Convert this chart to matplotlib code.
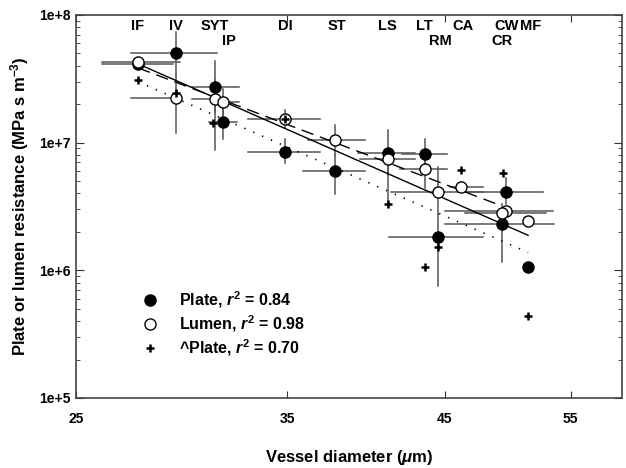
import numpy as np
import matplotlib
matplotlib.use("Agg")
from matplotlib import pyplot as plt
from matplotlib.lines import Line2D

plt.rcParams['font.family'] = ['Liberation Sans', 'DejaVu Sans']
plt.rcParams['font.weight'] = 'bold'
plt.rcParams['mathtext.fontset'] = 'custom'
plt.rcParams['mathtext.it'] = 'Liberation Sans:bold:italic'
plt.rcParams['mathtext.rm'] = 'Liberation Sans:bold'
plt.rcParams['mathtext.bf'] = 'Liberation Sans:bold'

nan = np.nan

# sites (top labels) and vessel diameter (um)
sites = ["IF", "IV", "SYT", "IP", "DI", "ST", "LS", "LT", "RM", "CA", "CW", "CR", "MF"]
label_row = [0, 0, 0, 1, 0, 0, 0, 0, 1, 0, 0, 1, 0]
label_x = [27.6, 29.3, 31.2, 31.9, 34.9, 37.9, 41.1, 43.6, 44.7, 46.3, 49.7, 49.3, 51.6]
diam = [27.6, 29.3, 31.2, 31.6, 34.9, 37.8, 41.1, 43.6, 44.5, 46.2, 49.6, 49.3, 51.4]

# plate resistance (filled)
plate = [4.14e7, 5.05e7, 2.74e7, 1.46e7, 8.5e6, 6.04e6, 8.3e6, 8.2e6, 1.81e6, nan, 4.07e6, 2.29e6, 1.06e6]
plate_ylo = [nan, 3.4e7, 1.75e7, 1.06e7, 6.9e6, 3.93e6, 5.62e6, 6.73e6, 7.5e5, nan, 3.28e6, 1.17e6, nan]
plate_yhi = [nan, 7.36e7, 4.37e7, 1.98e7, 1.06e7, 8.0e6, 1.26e7, 1.06e7, 2.74e6, nan, 5.33e6, 3.28e6, nan]
plate_xlo = [26.06, 27.29, 30.1, 30.9, 32.9, 35.9, 39.2, 42.05, 41.2, nan, 46.5, 45.0, nan]
plate_xhi = [29.2, 31.3, 32.4, 32.3, 36.9, 39.6, 42.9, 45.2, 47.8, nan, 52.6, 53.6, nan]

# lumen resistance (open)
lumen = [4.29e7, 2.25e7, 2.2e7, 2.09e7, 1.54e7, 1.055e7, 7.5e6, 6.26e6, 4.14e6, 4.53e6, 2.89e6, 2.83e6, 2.42e6]
lumen_ylo = [nan, 1.2e7, 8.8e6, 1.66e7, 1.31e7, 8.0e6, 3.16e6, 4.45e6, 2.74e6, 4.14e6, nan, nan, nan]
lumen_yhi = [nan, 3.4e7, 3.1e7, 2.64e7, 1.81e7, 1.38e7, 8.8e6, 7.37e6, 6.5e6, 4.96e6, nan, nan, nan]
lumen_xlo = [26.06, 27.29, 30.1, 31.2, 32.9, 36.2, 39.3, 41.9, 41.3, 45.4, 45.0, 46.5, nan]
lumen_xhi = [29.5, 29.3, 31.6, 32.4, 36.9, 39.6, 42.9, 45.2, 47.8, 47.8, 53.5, 52.9, nan]

# ^plate
up_diam = [27.6, 29.3, 31.1, 34.9, 41.1, 43.6, 44.5, 46.2, 49.4, 51.4]
up_plate = [3.1e7, 2.46e7, 1.43e7, 1.54e7, 3.28e6, 1.07e6, 1.51e6, 6.15e6, 5.83e6, 4.37e5]

# regression lines
fit_plate_x = [27.6, 51.4]
fit_plate_y = [4.14e7, 1.88e6]
fit_lumen_x = [27.6, 49.2]
fit_lumen_y = [3.85e7, 3.22e6]
fit_up_x = [27.6, 51.4]
fit_up_y = [3.0e7, 1.38e6]

fig = plt.figure(figsize=(6.26, 4.68), dpi=100)
ax = fig.add_axes([0.1214, 0.1496, 0.8722, 0.8184])
ax.set_xscale("log")
ax.set_yscale("log")
ax.set_xlim(25, 59.7)
ax.set_ylim(1e5, 1e8)

ebc = "#555555"


def draw_bars(x, y, xlo, xhi, ylo, yhi):
    for xi, yi, a, b, c, d in zip(x, y, xlo, xhi, ylo, yhi):
        if np.isnan(yi):
            continue
        if not np.isnan(a):
            ax.plot([a, b], [yi, yi], color=ebc, lw=1.1, zorder=1)
        if not np.isnan(c):
            ax.plot([xi, xi], [c, d], color=ebc, lw=1.1, zorder=1)


draw_bars(diam, plate, plate_xlo, plate_xhi, plate_ylo, plate_yhi)
draw_bars(diam, lumen, lumen_xlo, lumen_xhi, lumen_ylo, lumen_yhi)

ax.plot(fit_plate_x, fit_plate_y, color="black", lw=1.0, zorder=2)
ax.plot(fit_lumen_x, fit_lumen_y, color="black", lw=1.0, dashes=(9, 5), zorder=2)
ax.plot(fit_up_x, fit_up_y, color="black", lw=1.2, dashes=(0.8, 5), zorder=2)

ax.plot(diam, plate, "o", ms=8, mfc="black", mec="black", zorder=3)
ax.plot(diam, lumen, "o", ms=8, mfc="white", mec="black", mew=1.0, zorder=4)
ax.plot(up_diam, up_plate, "+", ms=6, mew=1.8, color="black", zorder=5)

for s, xs, r in zip(sites, label_x, label_row):
    ax.text(xs, 0.971 if r == 0 else 0.932, s, transform=ax.get_xaxis_transform(),
            ha="center", va="center", fontsize=10.5, fontweight="bold")

ax.set_xticks([25, 35, 45, 55])
ax.set_xticklabels(["25", "35", "45", "55"])
ax.xaxis.set_minor_locator(matplotlib.ticker.NullLocator())
ax.set_yticks([1e5, 1e6, 1e7, 1e8])
ax.set_yticklabels(["1e+5", "1e+6", "1e+7", "1e+8"])
ax.tick_params(which="both", direction="in", top=True, right=True, labelsize=10, colors="#333333",
               labelcolor="black")
ax.tick_params(axis="x", which="major", length=5, pad=10)
ax.tick_params(axis="y", which="major", length=6, pad=4)
ax.tick_params(axis="y", which="minor", length=3)
for sp in ax.spines.values():
    sp.set_color("#444444")
    sp.set_linewidth(1.2)

ax.set_xlabel(r"Vessel diameter ($\mu$m)", fontsize=12, fontweight="bold", labelpad=16)
ax.set_ylabel(r"Plate or lumen resistance (MPa s m$^{-3}$)", fontsize=12, fontweight="bold", labelpad=6)

handles = [
    Line2D([], [], ls="none", marker="o", ms=8, mfc="black", mec="black"),
    Line2D([], [], ls="none", marker="o", ms=8, mfc="white", mec="black"),
    Line2D([], [], ls="none", marker="+", ms=6, mew=1.8, color="black"),
]
labels = [r"Plate, $r^2$ = 0.84", r"Lumen, $r^2$ = 0.98", r"^Plate, $r^2$ = 0.70"]
leg = ax.legend(handles, labels, loc="upper left", bbox_to_anchor=(0.095, 0.32), frameon=False,
                prop={"size": 11.5, "weight": "bold"}, handletextpad=1.3, labelspacing=0.2,
                handlelength=1.0)

plt.savefig("out.png", dpi=100)
